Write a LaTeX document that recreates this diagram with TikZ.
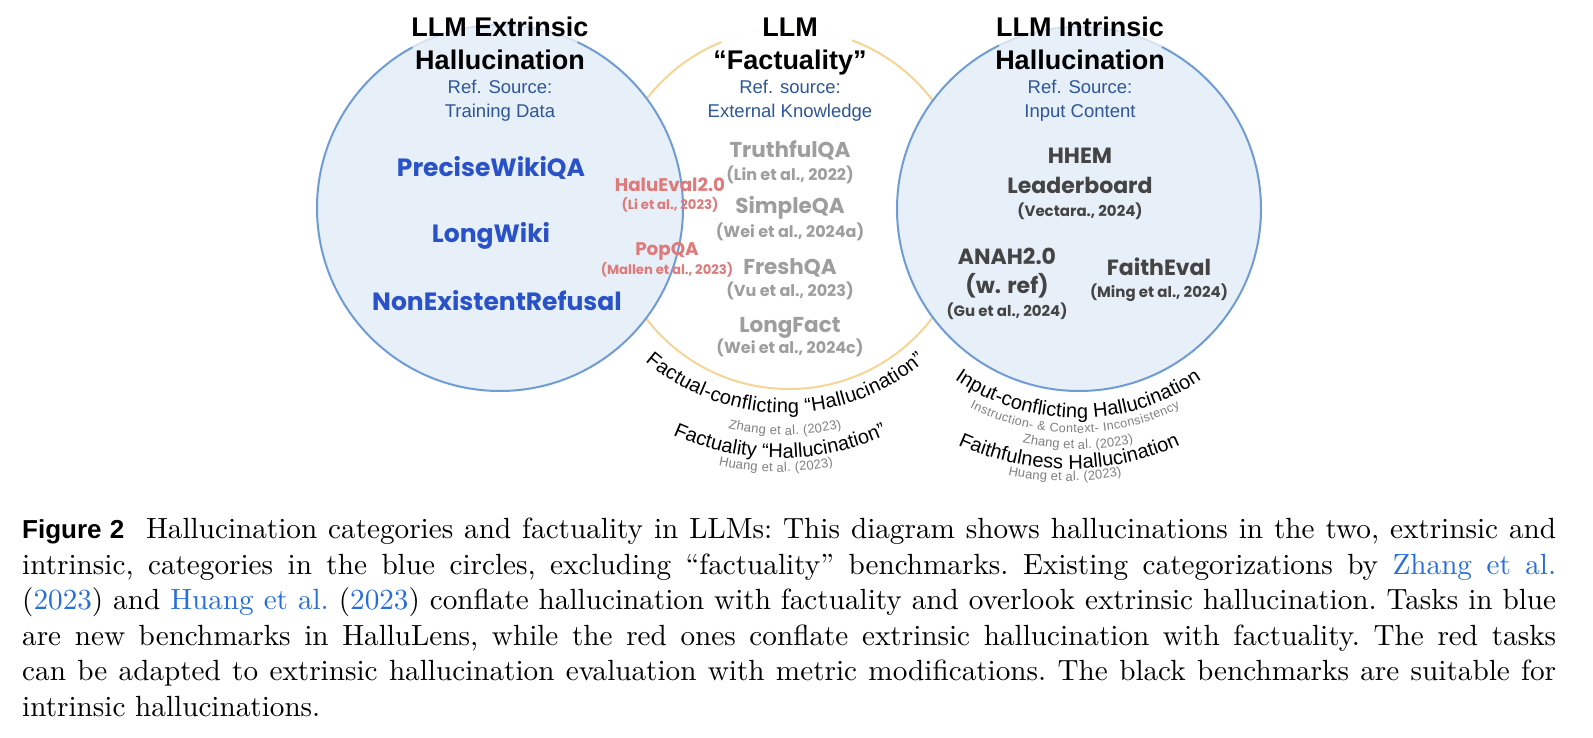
\documentclass[tikz,border=0pt]{standalone}
\usepackage{fontspec}
\usetikzlibrary{decorations.text}

\newfontfamily\arialfont{Liberation Sans}
\newfontfamily\benchfont{Poppins}
\newfontfamily\capfont{lmroman10-regular}[Extension=.otf,BoldFont=lmroman10-bold,Ligatures=TeX]

\definecolor{ringblue}{RGB}{112,156,212}
\definecolor{ringfill}{RGB}{231,239,248}
\definecolor{ringorange}{RGB}{246,212,150}
\definecolor{refblue}{RGB}{46,86,152}
\definecolor{newblue}{RGB}{42,82,200}
\definecolor{benchgray}{RGB}{158,158,158}
\definecolor{benchred}{RGB}{222,122,122}
\definecolor{benchdark}{RGB}{68,68,68}
\definecolor{citegray}{RGB}{128,128,128}
\definecolor{linkblue}{RGB}{38,110,220}

\newcommand\curvebig{\arialfont\fontsize{20}{20}\selectfont}
\newcommand\curvesmall{\arialfont\fontsize{13}{13}\selectfont}
\newcommand\curvetiny{\arialfont\fontsize{12.5}{12.5}\selectfont}

\tikzset{
    bluering/.style={draw=ringblue,fill=ringfill,line width=2pt},
    orangering/.style={draw=ringorange,line width=2pt},
    ringgap/.style={draw=white,line width=2.8pt},
    circtitle/.style={anchor=base,inner sep=0pt,font=\arialfont\bfseries\fontsize{27}{30}\selectfont},
    refsrc/.style={anchor=base,inner sep=0pt,text=refblue,font=\arialfont\fontsize{18.5}{22}\selectfont},
    newtask/.style={anchor=base,inner sep=0pt,text=newblue,font=\benchfont\bfseries\fontsize{25}{28}\selectfont},
    factbench/.style={anchor=base,inner sep=0pt,text=benchgray,font=\benchfont\bfseries\fontsize{21.5}{26}\selectfont},
    factcite/.style={anchor=base,inner sep=0pt,text=benchgray,font=\benchfont\bfseries\fontsize{16}{18}\selectfont},
    redbench/.style={anchor=base,inner sep=0pt,text=benchred,font=\benchfont\bfseries\fontsize{18.3}{24}\selectfont},
    redcite/.style={anchor=base,inner sep=0pt,text=benchred,font=\benchfont\bfseries\fontsize{13.2}{16}\selectfont},
    intbench/.style={anchor=base,inner sep=0pt,text=benchdark,font=\benchfont\bfseries\fontsize{22}{26}\selectfont},
    intcite/.style={anchor=base,inner sep=0pt,text=benchdark,font=\benchfont\bfseries\fontsize{15}{18}\selectfont},
    arclabel/.style={decorate,decoration={text along path,text align={fit to path},text={#1}}},
    arccite/.style={decorate,decoration={text along path,text align={fit to path},text color=citegray,text={#1}}},
    capnode/.style={anchor=north west,inner sep=0pt,text width=1534pt,align=justify,font=\capfont\fontsize{29.2}{35.5}\selectfont}
}

\begin{document}
\begin{tikzpicture}[x=1pt,y=1pt]
            \useasboundingbox (0,0) rectangle (1593,-738);
            \fill[white] (0,0) rectangle (1593,-738);
            % the three circles
            \coordinate (ext) at (500,-208);
            \coordinate (fact) at (789,-209);
            \coordinate (int) at (1079,-209);
            \draw[orangering] (fact) circle[radius=180];
            \draw[bluering] (ext) circle[radius=183];
            \draw[bluering] (int) circle[radius=182];
            \draw[ringgap] (fact) ++(69.5:180) arc[start angle=69.5,end angle=112,radius=180];
            \draw[ringgap,draw opacity=.7] (ext) ++(65:183) arc[start angle=65,end angle=118.5,radius=183];
            \draw[ringgap,draw opacity=.7] (int) ++(63:182) arc[start angle=63,end angle=116,radius=182];
            % extrinsic
            \node[circtitle] (extT1) at (500,-37) {LLM Extrinsic};
            \node[circtitle] (extT2) at (500,-70) {Hallucination};
            \node[refsrc] (extR1) at (500,-94) {Ref. Source:};
            \node[refsrc] (extR2) at (500,-118) {Training Data};
            \node[newtask] (pwq) at (491,-177) {PreciseWikiQA};
            \node[newtask] (lw) at (491,-243) {LongWiki};
            \node[newtask] (ner) at (497,-310) {NonExistentRefusal};
            % factuality
            \node[circtitle] (factT1) at (790,-37) {LLM};
            \node[circtitle] (factT2) at (790,-70) {“Factuality”};
            \node[refsrc] (factR1) at (790,-94) {Ref. source:};
            \node[refsrc] (factR2) at (790,-118) {External Knowledge};
            \node[factbench] (tqa) at (790,-158) {TruthfulQA};
            \node[factcite] (tqaC) at (790,-181) {(Lin et al., 2022)};
            \node[factbench] (sqa) at (790,-214) {SimpleQA};
            \node[factcite] (sqaC) at (790,-237) {(Wei et al., 2024a)};
            \node[factbench] (fqa) at (790,-274) {FreshQA};
            \node[factcite] (fqaC) at (790,-296) {(Vu et al., 2023)};
            \node[factbench] (lf) at (790,-332) {LongFact};
            \node[factcite] (lfC) at (790,-353) {(Wei et al., 2024c)};
            \node[redbench] (he) at (670,-192) {HaluEval2.0};
            \node[redcite] (heC) at (670,-210) {(Li et al., 2023)};
            \node[redbench] (pop) at (667,-255) {PopQA};
            \node[redcite] (popC) at (667,-274) {(Mallen et al., 2023)};
            % intrinsic
            \node[circtitle] (intT1) at (1080,-37) {LLM Intrinsic};
            \node[circtitle] (intT2) at (1080,-70) {Hallucination};
            \node[refsrc] (intR1) at (1080,-94) {Ref. Source:};
            \node[refsrc] (intR2) at (1080,-118) {Input Content};
            \node[intbench] (hhem) at (1080,-164) {HHEM};
            \node[intbench] (lb) at (1080,-194) {Leaderboard};
            \node[intcite] (lbC) at (1080,-217) {(Vectara., 2024)};
            \node[intbench] (anah) at (1007,-265) {ANAH2.0};
            \node[intbench] (wref) at (1007,-293) {(w. ref)};
            \node[intcite] (anahC) at (1007,-316) {(Gu et al., 2024)};
            \node[intbench] (fe) at (1159,-276) {FaithEval};
            \node[intcite] (feC) at (1159,-297) {(Ming et al., 2024)};
            % curved labels
            \path[arclabel={|\curvebig|Factual-conflicting “Hallucination”}] (785,-198) ++(229.4:215) arc[start angle=229.4,end angle=310.6,radius=215];
            \path[arccite={|\curvesmall|Zhang et al. (2023)}] (785,-198) ++(256.1:237) arc[start angle=256.1,end angle=283.9,radius=237];
            \path[arclabel={|\curvebig|Factuality “Hallucination”}] (780,-198) ++(245.7:260) arc[start angle=245.7,end angle=294.3,radius=260];
            \path[arccite={|\curvesmall|Huang et al. (2023)}] (776,-198) ++(257.9:274) arc[start angle=257.9,end angle=282.1,radius=274];
            \path[arclabel={|\curvebig|Input-conflicting Hallucination}] (1078,-200) ++(235.5:218) arc[start angle=235.5,end angle=304.5,radius=218];
            \path[arccite={|\curvetiny|Instruction- {\&} Context- Inconsistency}] (1075,-200) ++(243.2:233) arc[start angle=243.2,end angle=296.8,radius=233];
            \path[arccite={|\curvesmall|Zhang et al. (2023)}] (1078,-200) ++(257.1:249) arc[start angle=257.1,end angle=282.9,radius=249];
            \path[arclabel={|\curvebig|Faithfulness Hallucination}] (1069,-200) ++(245.6:269) arc[start angle=245.6,end angle=294.4,radius=269];
            \path[arccite={|\curvesmall|Huang et al. (2023)}] (1065,-200) ++(258.3:281) arc[start angle=258.3,end angle=281.7,radius=281];
            % caption
            \node[capnode] (cap) at (22,-518) {\frenchspacing{\arialfont\bfseries\fontsize{26}{30}\selectfont Figure 2}\ \ Hallucination categories and factuality in LLMs: This diagram shows hallucinations in the two, extrinsic and\linebreak
            intrinsic, categories in the blue circles, excluding ``factuality'' benchmarks. Existing categorizations by \textcolor{linkblue}{Zhang et al.}\linebreak
            (\textcolor{linkblue}{2023}) and \textcolor{linkblue}{Huang et al.} (\textcolor{linkblue}{2023}) conflate hallucination with factuality and overlook extrinsic hallucination. Tasks in blue\linebreak
            are new benchmarks in HalluLens, while the red ones conflate extrinsic hallucination with factuality. The red tasks\linebreak
            can be adapted to extrinsic hallucination evaluation with metric modifications. The black benchmarks are suitable for\linebreak
            intrinsic hallucinations.};
\end{tikzpicture}
\end{document}
